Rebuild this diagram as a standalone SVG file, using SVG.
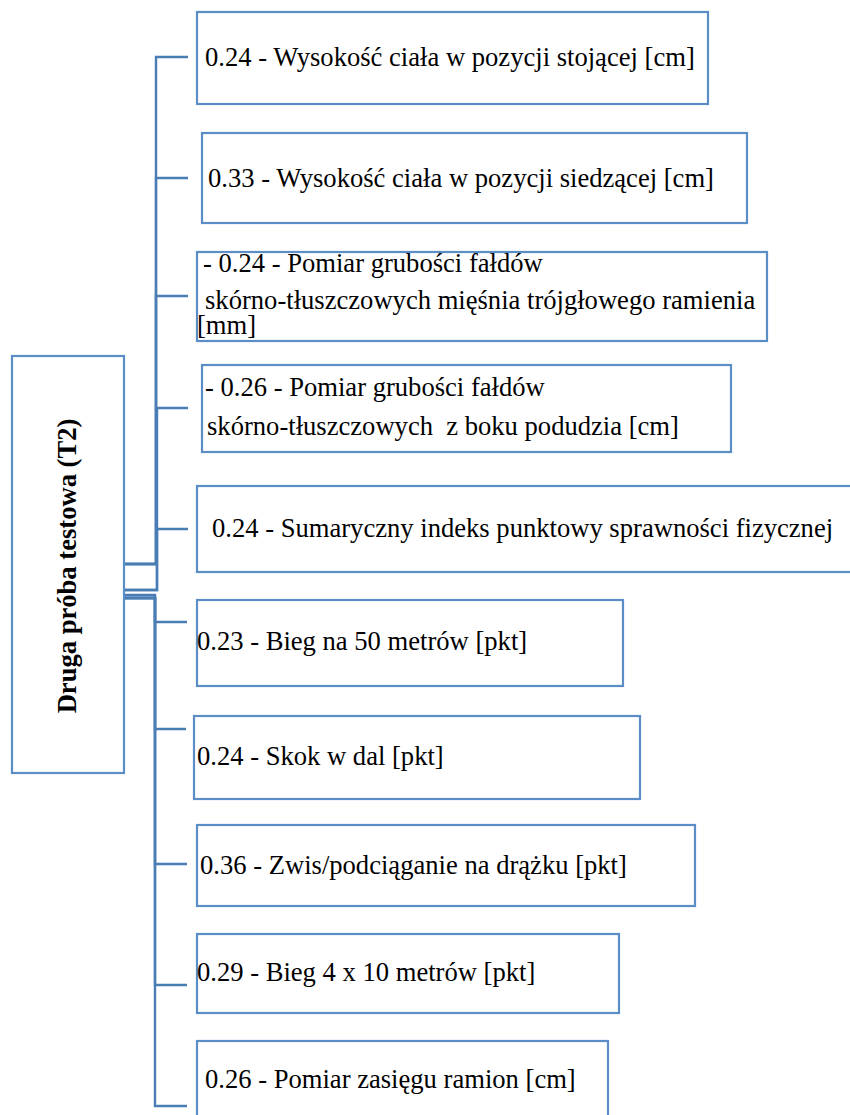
<svg xmlns="http://www.w3.org/2000/svg" width="850" height="1115" viewBox="0 0 850 1115">
<style>
.box{fill:#ffffff;stroke:#5b8ec6;stroke-width:2.2}
.con{fill:none;stroke:#4a7db4;stroke-width:2.4}
.t{font-family:"Liberation Serif","Times New Roman",serif;font-size:26.6px;fill:#000000}
.m{font-family:"Liberation Serif","Times New Roman",serif;font-size:26.6px;font-weight:bold;fill:#000000}
</style>
<rect x="0" y="0" width="850" height="1115" fill="#ffffff"/>
<g id="connectors">
<path class="con" d="M124,564 H156 V57 H188"/>
<path class="con" d="M124,564 H156 V178 H188"/>
<path class="con" d="M124,564 H156 V296 H188"/>
<path class="con" d="M124,590 H157 V408 H188"/>
<path class="con" d="M124,590 H157 V529 H188"/>
<path class="con" d="M124,595 H155 V622 H187"/>
<path class="con" d="M124,598 H155 V729 H186"/>
<path class="con" d="M124,598 H155 V864 H187"/>
<path class="con" d="M124,598 H155 V985 H187"/>
<path class="con" d="M124,598 H155 V1106 H187"/>
</g>
<g id="main">
<rect class="box" x="12" y="356" width="112" height="417"/>
<text class="m" transform="translate(76,566) rotate(-90)" text-anchor="middle">Druga próba testowa (T2)</text>
</g>
<g id="n1">
<rect class="box" x="197" y="12" width="511" height="92"/>
<text class="t" x="205" y="66">0.24 - Wysokość ciała w pozycji stojącej [cm]</text>
</g>
<g id="n2">
<rect class="box" x="202" y="133" width="545" height="90"/>
<text class="t" x="208" y="187">0.33 - Wysokość ciała w pozycji siedzącej [cm]</text>
</g>
<g id="n3">
<rect class="box" x="197" y="252" width="570" height="89"/>
<text class="t" x="203" y="272">- 0.24 - Pomiar grubości fałdów</text>
<text class="t" x="205" y="309">skórno-tłuszczowych mięśnia trójgłowego ramienia</text>
<text class="t" x="197" y="334">[mm]</text>
</g>
<g id="n4">
<rect class="box" x="202" y="365" width="529" height="87"/>
<text class="t" x="205" y="396">- 0.26 - Pomiar grubości fałdów</text>
<text class="t" x="207" y="435" xml:space="preserve">skórno-tłuszczowych  z boku podudzia [cm]</text>
</g>
<g id="n5">
<rect class="box" x="197" y="486" width="670" height="86"/>
<text class="t" x="212" y="537">0.24 - Sumaryczny indeks punktowy sprawności fizycznej</text>
</g>
<g id="n6">
<rect class="box" x="197" y="600" width="426" height="86"/>
<text class="t" x="197" y="650">0.23 - Bieg na 50 metrów [pkt]</text>
</g>
<g id="n7">
<rect class="box" x="194" y="716" width="446" height="83"/>
<text class="t" x="197" y="765">0.24 - Skok w dal [pkt]</text>
</g>
<g id="n8">
<rect class="box" x="197" y="825" width="498" height="81"/>
<text class="t" x="200" y="874">0.36 - Zwis/podciąganie na drążku [pkt]</text>
</g>
<g id="n9">
<rect class="box" x="197" y="934" width="422" height="79"/>
<text class="t" x="197" y="981">0.29 - Bieg 4 x 10 metrów [pkt]</text>
</g>
<g id="n10">
<rect class="box" x="197" y="1041" width="411" height="90"/>
<text class="t" x="205" y="1088">0.26 - Pomiar zasięgu ramion [cm]</text>
</g>
</svg>
